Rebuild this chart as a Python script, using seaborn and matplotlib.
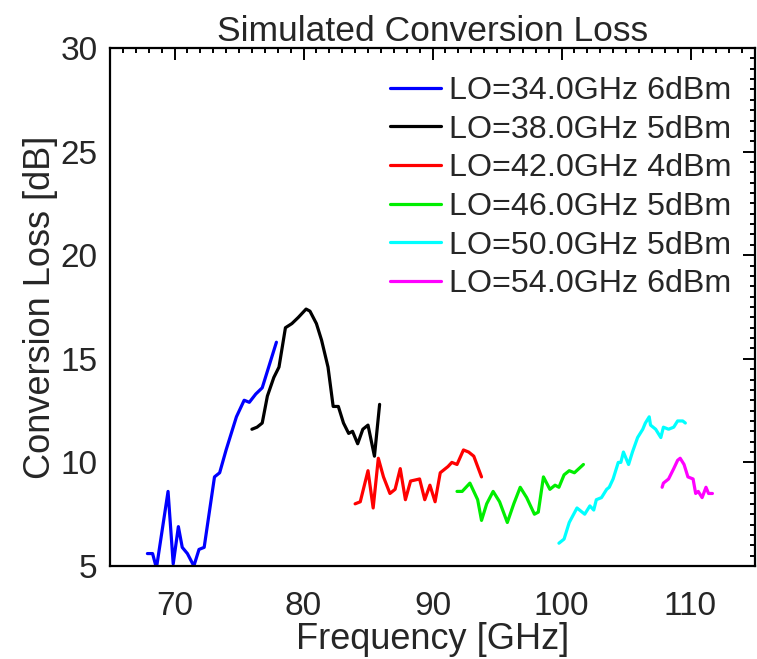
import matplotlib
matplotlib.use("Agg")
import matplotlib.pyplot as plt
import seaborn as sns
import pandas as pd
from matplotlib.ticker import MultipleLocator

# ---- data ----
labels = ["LO=34.0GHz 6dBm", "LO=38.0GHz 5dBm", "LO=42.0GHz 4dBm",
          "LO=46.0GHz 5dBm", "LO=50.0GHz 5dBm", "LO=54.0GHz 6dBm"]
colors = ["#0000ff", "#000000", "#ff0000", "#00ee00", "#00ffff", "#ff00ff"]

f_lo34 = [67.9, 68.3, 68.6, 69.5, 69.9, 70.3, 70.6, 71.0, 71.5, 71.9, 72.3, 72.7,
          73.1, 73.5, 74.0, 74.8, 75.4, 75.8, 76.3, 76.8, 77.3, 77.9]
cl_lo34 = [5.6, 5.6, 4.9, 8.6, 5.1, 6.9, 5.9, 5.6, 5.0, 5.8, 5.9, 7.6,
           9.3, 9.5, 10.6, 12.2, 13.0, 12.9, 13.3, 13.6, 14.6, 15.8]

f_lo38 = [76.0, 76.4, 76.8, 77.2, 77.7, 78.1, 78.6, 79.1, 79.6, 80.2, 80.5, 81.0,
          81.4, 81.9, 82.3, 82.7, 83.1, 83.5, 83.8, 84.2, 84.6, 85.0, 85.5, 85.9]
cl_lo38 = [11.6, 11.7, 11.9, 13.2, 14.1, 14.6, 16.5, 16.7, 17.0, 17.4, 17.3, 16.7,
           15.9, 14.6, 12.7, 12.7, 11.9, 11.4, 11.5, 10.9, 11.6, 11.8, 10.3, 12.8]

f_lo42 = [84.0, 84.4, 85.0, 85.4, 85.8, 86.2, 86.7, 87.1, 87.5, 87.9, 88.3, 89.0,
          89.4, 89.8, 90.2, 90.6, 91.2, 91.5, 91.9, 92.4, 92.8, 93.2, 93.8]
cl_lo42 = [8.0, 8.1, 9.6, 7.8, 10.2, 9.3, 8.5, 8.7, 9.7, 8.2, 9.1, 9.2,
           8.2, 8.9, 8.1, 9.5, 9.8, 10.0, 9.9, 10.6, 10.5, 10.3, 9.3]

f_lo46 = [91.9, 92.3, 92.9, 93.5, 93.8, 94.2, 94.7, 95.2, 95.8, 96.3, 96.8, 97.3,
          97.9, 98.2, 98.6, 99.1, 99.5, 99.8, 100.2, 100.6, 101.0, 101.7]
cl_lo46 = [8.6, 8.6, 9.0, 8.2, 7.2, 8.0, 8.6, 8.1, 7.1, 8.0, 8.8, 8.3,
           7.5, 7.6, 9.3, 8.7, 8.9, 8.8, 9.4, 9.6, 9.5, 9.9]

f_lo50 = [99.8, 100.2, 100.6, 101.2, 101.8, 102.2, 102.5, 102.7, 103.1, 103.5, 103.7,
          104.0, 104.4, 104.6, 104.8, 105.2, 105.5, 105.9, 106.3, 106.5, 106.8, 106.9,
          107.3, 107.7, 107.9, 108.3, 108.7, 109.0, 109.4, 109.6]
cl_lo50 = [6.1, 6.3, 7.1, 7.8, 7.5, 7.9, 7.7, 8.2, 8.3, 8.7, 8.8,
           9.2, 10.0, 10.0, 10.5, 9.9, 10.5, 11.2, 11.6, 11.9, 12.2, 11.8,
           11.6, 11.2, 11.7, 11.6, 11.7, 12.0, 12.0, 11.9]

f_lo54 = [107.8, 107.9, 108.3, 108.7, 109.0, 109.2, 109.5, 109.8, 110.2, 110.4,
          110.6, 110.9, 111.2, 111.4, 111.7]
cl_lo54 = [8.8, 9.0, 9.2, 9.7, 10.1, 10.2, 9.9, 9.3, 9.2, 8.5,
           8.6, 8.3, 8.8, 8.5, 8.5]

freqs = [f_lo34, f_lo38, f_lo42, f_lo46, f_lo50, f_lo54]
losses = [cl_lo34, cl_lo38, cl_lo42, cl_lo46, cl_lo50, cl_lo54]

x_ticks = [70, 80, 90, 100, 110]
y_ticks = [5, 10, 15, 20, 25, 30]

# ---- plot ----
sns.set_style("white")
plt.rcParams['font.family'] = ['Liberation Sans', 'DejaVu Sans']

fig = plt.figure(figsize=(7.57, 6.59), dpi=100)
ax = fig.add_axes([110/757, 1 - 566/659, 645/757, 518/659])

for f, c, lab, col in zip(freqs, losses, labels, colors):
    df = pd.DataFrame({"f": f, "cl": c})
    sns.lineplot(data=df, x="f", y="cl", ax=ax, color=col, label=lab,
                 linewidth=2.3, sort=False, estimator=None)

ax.set_xlim(65, 115)
ax.set_ylim(5, 30)
ax.set_xticks(x_ticks)
ax.set_yticks(y_ticks)
ax.xaxis.set_minor_locator(MultipleLocator(1))
ax.yaxis.set_minor_locator(MultipleLocator(0.5))
ax.tick_params(which="both", direction="in", top=True, right=True,
               width=1.4, color="black")
ax.tick_params(which="major", length=8.5)
ax.tick_params(which="minor", length=3.8)
ax.tick_params(axis="x", which="major", labelsize=24, pad=18)
ax.tick_params(axis="y", which="major", labelsize=24, pad=9)
for s in ax.spines.values():
    s.set_linewidth(1.6)
    s.set_color("black")

ax.set_xlabel("Frequency [GHz]", fontsize=26, labelpad=0)
ax.set_ylabel("Conversion Loss [dB]", fontsize=26, labelpad=2)
ax.set_title("Simulated Conversion Loss", fontsize=25.5, pad=5)

leg = ax.legend(loc="upper right", bbox_to_anchor=(0.9643, 0.946),
                frameon=False, fontsize=23.2,
                handlelength=1.6, handletextpad=0.25, labelspacing=0.27,
                borderaxespad=0, borderpad=0)
for line in leg.get_lines():
    line.set_linewidth(2.3)

fig.savefig("out.png", dpi=100)
